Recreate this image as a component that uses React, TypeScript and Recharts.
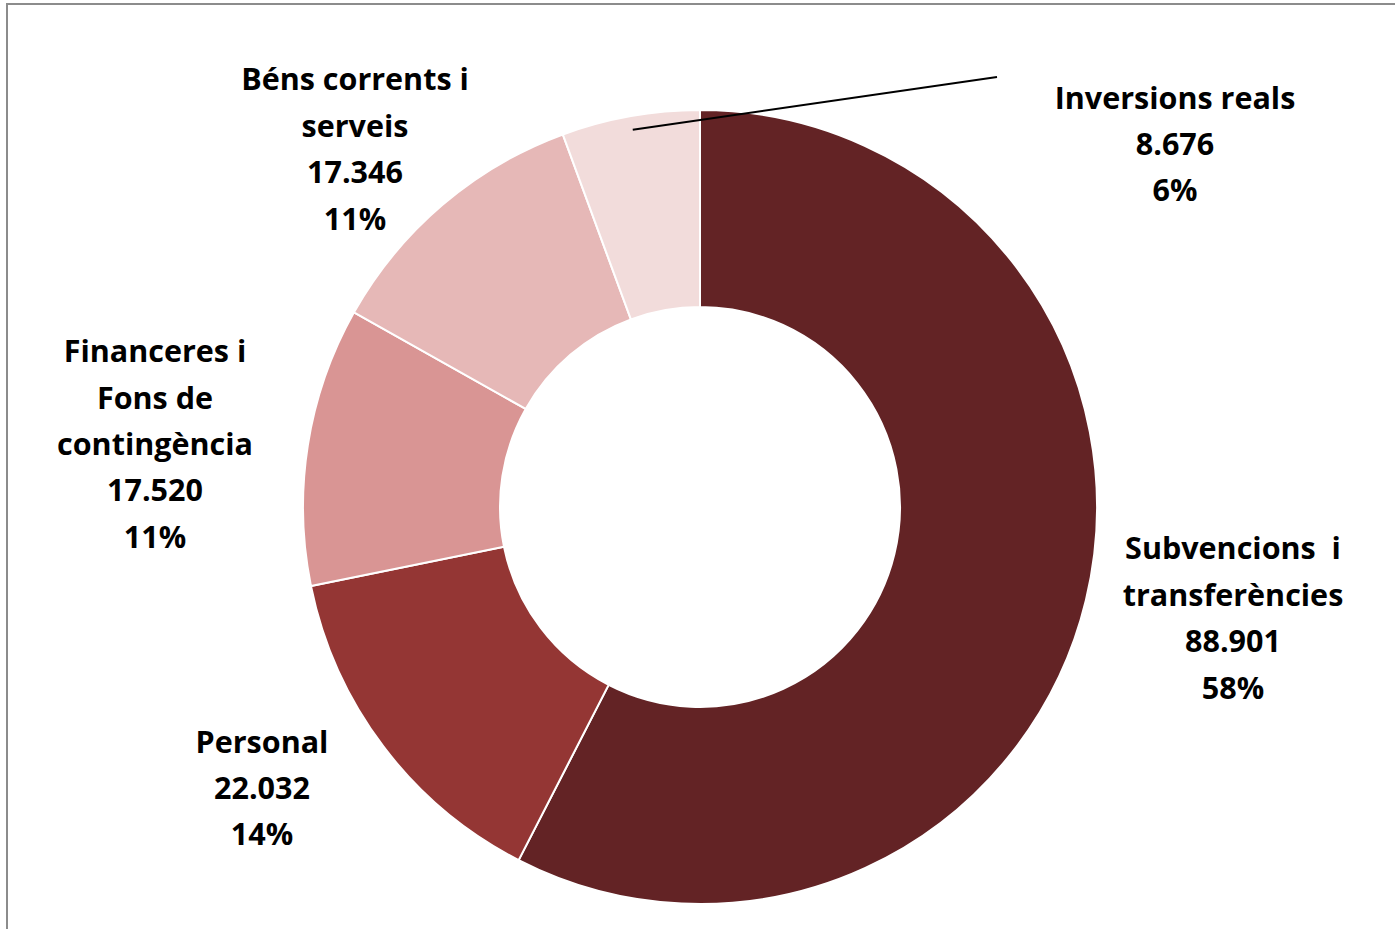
import { PieChart, Pie, Cell } from 'recharts'

const categories = [
  ['Subvencions  i', 'transferències'],
  ['Personal'],
  ['Financeres i', 'Fons de', 'contingència'],
  ['Béns corrents i', 'serveis'],
  ['Inversions reals'],
]
const values = [88901, 22032, 17520, 17346, 8676]
const colors = ['#632325', '#943634', '#d99594', '#e6b8b7', '#f2dcdb']

// where each label block sits, relative to the pie centre
const labelOffsets = [
  [533, 110],
  [-438, 280],
  [-545, -64],
  [-345, -359],
  [475, -364],
]
const LINE_H = 46.4
const FONT = '"Open Sans", Lato, sans-serif'

const chartData = categories.map((lines, i) => ({ name: lines.join(' '), lines, value: values[i] }))

const fmt = (v: number) => String(v).replace(/\B(?=(\d{3})+(?!\d))/g, '.')

const RADIAN = Math.PI / 180

function renderLabel(props: any) {
  const { cx, cy, midAngle, outerRadius, index, percent, value } = props
  const entry = chartData[index]
  const [dx, dy] = labelOffsets[index]
  const rows = [...entry.lines, fmt(value), `${Math.round(percent * 100)}%`]
  const x = cx + dx
  const top = cy + dy - ((rows.length - 1) * LINE_H) / 2
  let leader = null
  if (index === 4) {
    const r = outerRadius * 0.965
    const sx = cx + r * Math.cos(-midAngle * RADIAN)
    const sy = cy + r * Math.sin(-midAngle * RADIAN)
    leader = <line x1={sx} y1={sy} x2={cx + 297} y2={cy - 430} stroke="#000" strokeWidth={2} />
  }
  return (
    <g key={`lbl-${index}`}>
      {leader}
      <text
        x={x}
        y={top}
        textAnchor="middle"
        dominantBaseline="central"
        fill="#000"
        style={{ fontFamily: FONT, fontWeight: 700, fontSize: 30.5, whiteSpace: 'pre' }}
      >
        {rows.map((row, i) => (
          <tspan key={i} x={x} y={top + i * LINE_H}>
            {row}
          </tspan>
        ))}
      </text>
    </g>
  )
}

export default function App() {
  return (
    <div style={{ position: 'relative', width: 1395, height: 929, overflow: 'hidden', background: '#fff' }}>
      <style>{`body{margin:0;overflow:hidden}`}</style>
      <div
        style={{
          position: 'absolute',
          left: 6,
          top: 3,
          width: 1420,
          height: 960,
          border: '2px solid #8c8c8c',
          boxSizing: 'border-box',
        }}
      />
      <div style={{ position: 'absolute', left: 0, top: 0 }}>
        <PieChart width={1395} height={929} margin={{ top: 0, right: 0, bottom: 0, left: 0 }}>
          <Pie
            data={chartData}
            dataKey="value"
            nameKey="name"
            cx={700}
            cy={507}
            innerRadius={200}
            outerRadius={397}
            startAngle={90}
            endAngle={-270}
            stroke="#fff"
            strokeWidth={2}
            label={renderLabel}
            labelLine={false}
            isAnimationActive={false}
          >
            {chartData.map((entry, index) => (
              <Cell key={`cell-${index}`} fill={colors[index]} />
            ))}
          </Pie>
        </PieChart>
      </div>
    </div>
  )
}
